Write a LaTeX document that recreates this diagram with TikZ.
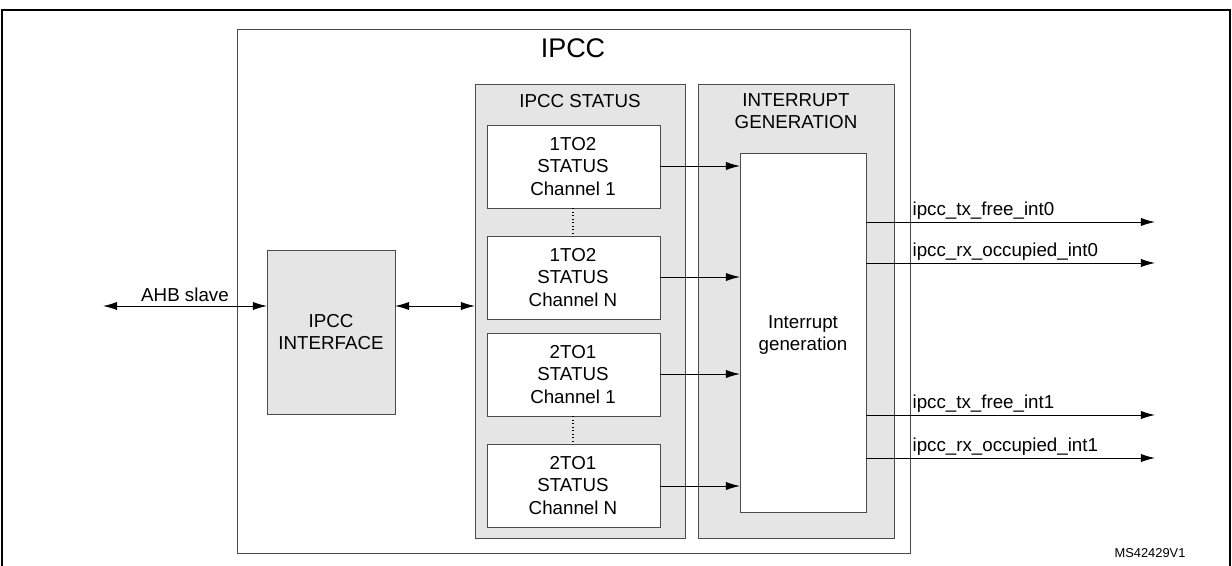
\documentclass[tikz,border=0pt]{standalone}
\usepackage{fontspec}
\setmainfont{Liberation Sans}
\usetikzlibrary{arrows.meta,positioning}
\tikzset{
  blk/.style={draw=black!70,line width=0.8pt},
  grp/.style={blk,fill=black!10},
  sig/.style={line width=0.8pt,-{Latex[length=12pt,width=7pt]}},
  bsig/.style={line width=0.8pt,{Latex[length=12pt,width=7pt]}-{Latex[length=12pt,width=7pt]}},
  txt/.style={font=\fontsize{16}{19}\selectfont,align=center},
  otxt/.style={font=\fontsize{16}{19}\selectfont,anchor=south west,inner sep=2pt}
}
\begin{document}
\begin{tikzpicture}[x=0.03cm,y=-0.03cm]
  \useasboundingbox (0,0) rectangle (1232,566);
  \draw[line width=1.2pt] (2,600) -- (2,10) -- (1230,10) -- (1230,600);
  % main blocks
  \draw[blk] (237,29) rectangle (910,553);
  \node[font=\fontsize{23}{27}\selectfont] (ipcc) at (573,48) {IPCC};
  \draw[grp] (267,250) rectangle (395,414);
  \node[txt] (itf) at (331,332) {IPCC\\INTERFACE};
  \coordinate (itfl) at (267,306);
  \coordinate (itfr) at (395,306);
  \draw[grp] (475,84) rectangle (685,538);
  \node[txt] (stt) at (580,101) {IPCC STATUS};
  \draw[grp] (698,84) rectangle (894,538);
  \node[txt] (igt) at (796,111) {INTERRUPT\\GENERATION};
  \draw[blk,fill=white] (740,153) rectangle (866,512);
  \node[txt] (ig) at (803,335) {Interrupt\\generation};
  % status channels
  \foreach \n/\yt/\yb/\a/\c in {s1/125/208/1TO2/1,s2/236/319/1TO2/N,s3/333/416/2TO1/1,s4/444/527/2TO1/N}{
    \draw[blk,fill=white] (487,\yt) rectangle (660,\yb);
    \node[txt] (\n) at (573,{(\yt+\yb)/2}) {\a\\STATUS\\Channel \c};
  }
  \draw[dotted,line width=1pt] (573,208) -- (573,236);
  \draw[dotted,line width=1pt] (573,416) -- (573,444);
  \foreach \y in {166,277,374,486}
    \draw[sig] (660,\y) -- (740,\y);
  % bus
  \coordinate (ahb) at (103,306);
  \coordinate (stl) at (475,306);
  \draw[bsig] (ahb) -- node[above,txt,inner sep=3pt] {AHB slave} (itfl);
  \draw[bsig] (itfr) -- (stl);
  % outputs
  \foreach \y/\t in {222/ipcc\_tx\_free\_int0,263/ipcc\_rx\_occupied\_int0,415/ipcc\_tx\_free\_int1,458/ipcc\_rx\_occupied\_int1}{
    \draw[sig] (866,\y) -- (1155,\y);
    \node[otxt] at (910,\y) {\t};
  }
  \node[font=\fontsize{11}{13}\selectfont] (ms) at (1150,553) {MS42429V1};
\end{tikzpicture}
\end{document}
